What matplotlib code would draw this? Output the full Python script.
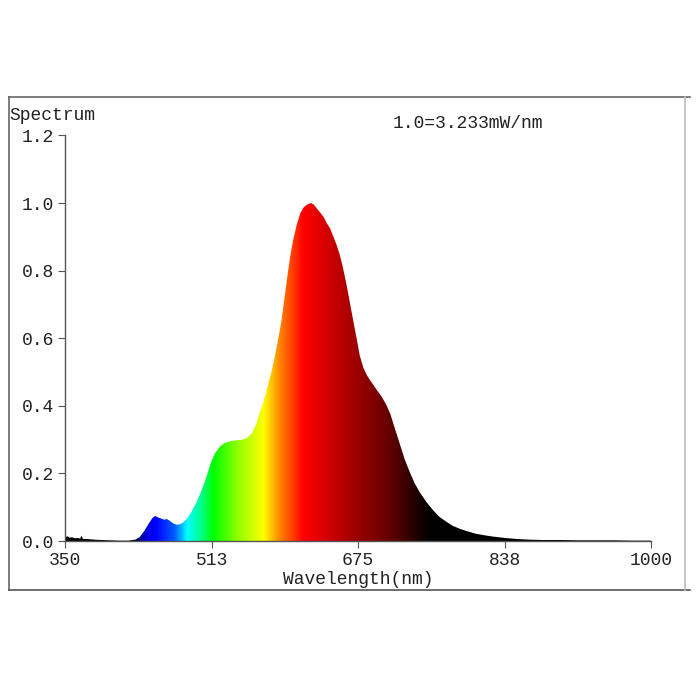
import numpy as np
import matplotlib
matplotlib.use("Agg")
import matplotlib.pyplot as plt
from matplotlib.colors import LinearSegmentedColormap
from matplotlib.lines import Line2D

# spectrum (relative, 1.0 = 3.233 mW/nm)
wavelength = [350, 351, 353, 355, 358, 361, 364, 367, 368, 370, 374, 378, 383, 390, 400,
              410, 420, 428, 433, 438, 443, 447, 450, 453, 457, 460, 463, 466, 470, 474,
              478, 482, 486, 490, 495, 500, 505, 511, 516, 522, 527, 533, 540, 547, 552,
              557, 562, 566, 570, 574, 579, 583, 586, 590, 592, 597, 600, 603, 607, 611,
              615, 619, 623, 626, 629, 633, 637, 640, 644, 647, 651, 655, 658, 662, 666,
              670, 674, 677, 681, 685, 688, 692, 696, 701, 706, 711, 716, 722, 727, 733,
              738, 744, 751, 758, 765, 773, 780, 788, 796, 805, 815, 825, 838, 851, 865,
              880, 900, 920, 940, 960, 980, 1000]
intensity = [0.018, 0.012, 0.014, 0.010, 0.011, 0.008, 0.009, 0.007, 0.016, 0.006, 0.006,
             0.005, 0.004, 0.003, 0.002, 0.001, 0.001, 0.004, 0.012, 0.030, 0.052, 0.068,
             0.074, 0.070, 0.066, 0.063, 0.065, 0.060, 0.052, 0.048, 0.050, 0.057, 0.068,
             0.085, 0.110, 0.140, 0.175, 0.225, 0.258, 0.280, 0.290, 0.295, 0.298, 0.300,
             0.305, 0.318, 0.345, 0.380, 0.410, 0.450, 0.500, 0.550, 0.590, 0.650, 0.690,
             0.790, 0.845, 0.890, 0.935, 0.970, 0.988, 0.996, 1.000, 0.995, 0.985, 0.972,
             0.958, 0.942, 0.925, 0.905, 0.878, 0.845, 0.812, 0.762, 0.705, 0.648, 0.592,
             0.548, 0.512, 0.490, 0.477, 0.462, 0.446, 0.428, 0.405, 0.375, 0.332, 0.282,
             0.240, 0.200, 0.170, 0.142, 0.115, 0.092, 0.072, 0.057, 0.045, 0.036, 0.029,
             0.022, 0.017, 0.013, 0.009, 0.006, 0.004, 0.003, 0.003, 0.002, 0.002, 0.002,
             0.001, 0.001]

x_ticks = [350, 513, 675, 838, 1000]
y_ticks = [0.0, 0.2, 0.4, 0.6, 0.8, 1.0, 1.2]

# colour under the curve by wavelength
color_stops = [(350, (0, 0, 0)), (422, (0, 0, 0)), (440, (0, 0, 230)), (450, (0, 0, 255)),
               (470, (0, 90, 255)), (485, (0, 255, 255)), (500, (0, 255, 140)),
               (514, (0, 255, 0)), (540, (140, 255, 0)), (570, (255, 255, 0)),
               (585, (255, 150, 0)), (614, (255, 0, 0)), (662, (175, 0, 0)),
               (710, (100, 0, 0)), (755, (0, 0, 0)), (1000, (0, 0, 0))]

font = "Liberation Mono"
plt.rcParams['font.family'] = [font, 'DejaVu Sans Mono']

fig = plt.figure(figsize=(7, 7), dpi=100)
ax = fig.add_axes([65 / 700, 1 - 541 / 700, 586 / 700, 405.6 / 700])

lo, hi = color_stops[0][0], color_stops[-1][0]
cmap = LinearSegmentedColormap.from_list(
    "spec", [((w - lo) / (hi - lo), tuple(c / 255 for c in rgb)) for w, rgb in color_stops])

poly = ax.fill_between(wavelength, 0, intensity, facecolor="none", edgecolor="none")
grad = np.linspace(0, 1, 1000).reshape(1, -1)
im = ax.imshow(grad, cmap=cmap, aspect="auto", extent=[350, 1000, 0, 1.2],
               interpolation="bilinear")
im.set_clip_path(poly.get_paths()[0], transform=ax.transData)

ax.set_xlim(350, 1000)
ax.set_ylim(0, 1.2)
ax.set_xticks(x_ticks)
ax.set_xticklabels([str(t) for t in x_ticks])
ax.set_yticks(y_ticks)
ax.set_yticklabels([f"{t:.1f}" for t in y_ticks])
for s in ["top", "right"]:
    ax.spines[s].set_visible(False)
for s in ["left", "bottom"]:
    ax.spines[s].set_color("#555555")
    ax.spines[s].set_linewidth(1.0)
ax.tick_params(direction="out", length=5, width=0.8, color="#555555",
               labelsize=13, pad=3, labelcolor="#222222")
ax.set_xlabel("Wavelength(nm)", fontsize=13, labelpad=1, color="#222222")

# outer frame
fig.add_artist(Line2D([9 / 700, 9 / 700], [1 - 97 / 700, 1 - 590 / 700], color="#666666", lw=1.2))
fig.add_artist(Line2D([9 / 700, 690 / 700], [1 - 97 / 700, 1 - 97 / 700], color="#666666", lw=1.2))
fig.add_artist(Line2D([9 / 700, 690 / 700], [1 - 590 / 700, 1 - 590 / 700], color="#555555", lw=1.2))
fig.add_artist(Line2D([685 / 700, 685 / 700], [1 - 97 / 700, 1 - 590 / 700], color="#bbbbbb", lw=1.2))

fig.text(9 / 700, 1 - 116 / 700, "Spectrum", fontsize=13, ha="left", va="center", color="#222222")
fig.text(393 / 700, 1 - 123 / 700, "1.0=3.233mW/nm", fontsize=13, ha="left", va="center",
         color="#222222")

fig.savefig("out.png", dpi=100)
